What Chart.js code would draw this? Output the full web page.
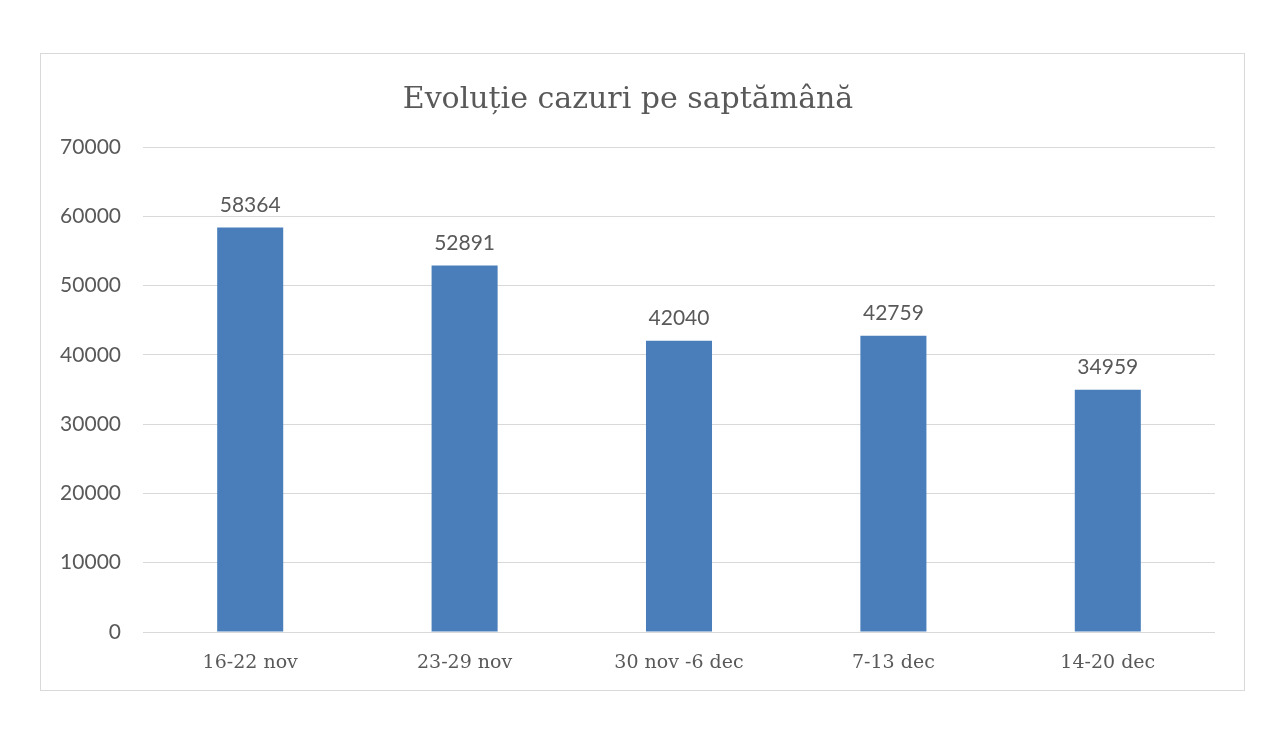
<!DOCTYPE html>
<html>
<head>
<meta charset="utf-8">
<script src="https://cdn.jsdelivr.net/npm/chart.js@4"></script>
<style>
  html, body { margin: 0; padding: 0; background: #fff; }
  #box {
    position: absolute; left: 40px; top: 53px;
    width: 1203px; height: 636px;
    border: 1px solid #d9d9d9;
  }
</style>
</head>
<body>
<div id="box"><canvas id="chart"></canvas></div>
<script>
const weeks = ['16-22 nov', '23-29 nov', '30 nov -6 dec', '7-13 dec', '14-20 dec']
const cases = [58364, 52891, 42040, 42759, 34959]
const yTicks = [0, 10000, 20000, 30000, 40000, 50000, 60000, 70000]

const textColor = '#595959'

// write the number above each bar
const barValues = {
  id: 'barValues',
  afterDatasetsDraw(chart) {
    const ctx = chart.ctx
    const meta = chart.getDatasetMeta(0)
    ctx.save()
    ctx.font = '21px Lato'
    ctx.fillStyle = textColor
    ctx.textAlign = 'center'
    ctx.textBaseline = 'alphabetic'
    meta.data.forEach((bar, i) => {
      ctx.fillText(String(cases[i]), bar.x, bar.y - 16)
    })
    ctx.restore()
  }
}

new Chart(document.getElementById('chart'), {
  type: 'bar',
  data: {
    labels: weeks,
    datasets: [{
      data: cases,
      backgroundColor: '#4a7ebb',
      categoryPercentage: 1,
      barPercentage: 0.308
    }]
  },
  options: {
    responsive: true,
    maintainAspectRatio: false,
    animation: false,
    layout: { padding: { top: 0, right: 29, bottom: 0, left: 0 } },
    plugins: {
      legend: { display: false },
      tooltip: { enabled: false },
      title: {
        display: true,
        text: 'Evoluție cazuri pe saptămână',
        color: textColor,
        font: { family: 'DejaVu Serif', size: 30, weight: 'normal' },
        padding: { top: 28, bottom: 29 }
      }
    },
    scales: {
      x: {
        afterFit: s => { s.height = 58 },
        grid: { display: false, drawTicks: false },
        border: { display: false },
        ticks: {
          color: textColor,
          padding: 20,
          font: { family: 'DejaVu Serif', size: 19 }
        }
      },
      y: {
        min: 0,
        max: 70000,
        afterFit: s => { s.width = 102 },
        afterBuildTicks: s => { s.ticks = yTicks.map(v => ({ value: v })) },
        grid: { color: '#d9d9d9', drawTicks: false },
        border: { display: false },
        ticks: {
          color: textColor,
          padding: 22,
          font: { family: 'Lato', size: 21 },
          callback: v => String(v)
        }
      }
    }
  },
  plugins: [barValues]
})
</script>
</body>
</html>
